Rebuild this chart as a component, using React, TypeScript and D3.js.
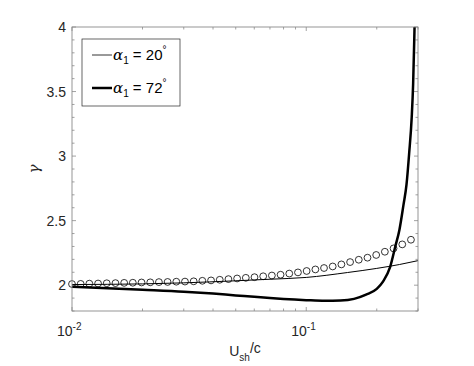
import React from 'react';
import * as d3 from 'd3';

// circles (reference points)
const circX = [0.01, 0.01089, 0.01186, 0.01292, 0.01407, 0.01533, 0.0167, 0.01818, 0.01981, 0.02158,
  0.0235, 0.02559, 0.02788, 0.03036, 0.03307, 0.03602, 0.03923, 0.04273, 0.04654, 0.05069,
  0.05521, 0.06013, 0.0655, 0.07134, 0.0777, 0.08463, 0.09218, 0.1004, 0.1094, 0.1191,
  0.1297, 0.1413, 0.1539, 0.1676, 0.1826, 0.1989, 0.2166, 0.2359, 0.257, 0.2799];
const circY = [2.009, 2.010, 2.012, 2.013, 2.015, 2.016, 2.018, 2.019, 2.021, 2.022,
  2.024, 2.025, 2.027, 2.028, 2.030, 2.034, 2.037, 2.042, 2.047, 2.052,
  2.057, 2.062, 2.069, 2.075, 2.081, 2.090, 2.099, 2.110, 2.122, 2.133,
  2.145, 2.161, 2.179, 2.197, 2.213, 2.234, 2.259, 2.285, 2.316, 2.352];

// alpha1 = 20 deg
const thinX = [0.01, 0.02, 0.03, 0.05, 0.07, 0.1, 0.15, 0.2, 0.25, 0.3];
const thinY = [2.005, 2.010, 2.018, 2.034, 2.046, 2.060, 2.098, 2.130, 2.160, 2.190];

// alpha1 = 72 deg
const thickX = [0.01, 0.015, 0.02, 0.03, 0.04, 0.05, 0.06, 0.07, 0.08, 0.1, 0.12, 0.14, 0.16, 0.18,
  0.2, 0.213, 0.228, 0.24, 0.25, 0.26, 0.268, 0.275, 0.282, 0.286, 0.29, 0.295];
const thickY = [1.988, 1.975, 1.965, 1.950, 1.935, 1.921, 1.910, 1.900, 1.893, 1.884, 1.879, 1.881, 1.894, 1.927,
  1.972, 2.03, 2.14, 2.30, 2.43, 2.62, 2.78, 3.02, 3.30, 3.56, 4.0, 4.6];

const yTicks = [2, 2.5, 3, 3.5, 4];
const xMajor = [0.01, 0.1];
const xMinor = [0.02, 0.03, 0.04, 0.05, 0.06, 0.07, 0.08, 0.09, 0.2, 0.3];

const legendLabels = ['20', '72'];

const W = 474, H = 366;
const m = { left: 72, top: 27, right: 418, bottom: 311 };
const font = 'Liberation Sans, Arial, Helvetica, sans-serif';
const axisColor = '#8a8a8a';
const textColor = '#262626';

export default function App() {
  const x = d3.scaleLog().domain([0.01, 0.3]).range([m.left, m.right]);
  const y = d3.scaleLinear().domain([1.8, 4]).range([m.bottom, m.top]);

  const line = d3.line<[number, number]>()
    .x(d => x(d[0]))
    .y(d => y(d[1]))
    .curve(d3.curveMonotoneX);

  const thin = line(thinX.map((v, i) => [v, thinY[i]]));
  const thick = line(thickX.map((v, i) => [v, thickY[i]]));

  const yMinor = d3.range(18, 41).map(v => v / 10).filter(v => !yTicks.some(t => Math.abs(t - v) < 1e-6));

  return (
    <svg width={W} height={H} style={{ position: 'absolute', left: 0, top: 0, background: '#fff' }}
      fontFamily={font}>
      <defs>
        <clipPath id="plot">
          <rect x={m.left} y={m.top} width={m.right - m.left} height={m.bottom - m.top} />
        </clipPath>
      </defs>

      {/* ticks */}
      <g stroke={axisColor} strokeWidth={0.8}>
        {yTicks.map(t => (
          <g key={'yt' + t}>
            <line x1={m.left} x2={m.left + 4} y1={y(t)} y2={y(t)} />
            <line x1={m.right} x2={m.right - 4} y1={y(t)} y2={y(t)} />
          </g>
        ))}
        {yMinor.map(t => (
          <g key={'ym' + t}>
            <line x1={m.left} x2={m.left + 2.5} y1={y(t)} y2={y(t)} />
            <line x1={m.right} x2={m.right - 2.5} y1={y(t)} y2={y(t)} />
          </g>
        ))}
        {xMajor.map(t => (
          <g key={'xt' + t}>
            <line x1={x(t)} x2={x(t)} y1={m.bottom} y2={m.bottom - 4} />
            <line x1={x(t)} x2={x(t)} y1={m.top} y2={m.top + 4} />
          </g>
        ))}
        {xMinor.map(t => (
          <g key={'xm' + t}>
            <line x1={x(t)} x2={x(t)} y1={m.bottom} y2={m.bottom - 2.5} />
            <line x1={x(t)} x2={x(t)} y1={m.top} y2={m.top + 2.5} />
          </g>
        ))}
      </g>

      {/* data */}
      <g clipPath="url(#plot)">
        <path d={thin ?? ''} fill="none" stroke="#000" strokeWidth={1} />
      </g>
      {circX.map((v, i) => (
        <circle key={i} cx={x(v)} cy={y(circY[i])} r={3.4} fill="none" stroke="#000" strokeWidth={0.8} />
      ))}
      <g clipPath="url(#plot)">
        <path d={thick ?? ''} fill="none" stroke="#000" strokeWidth={2.5} />
      </g>

      <rect x={m.left} y={m.top} width={m.right - m.left} height={m.bottom - m.top}
        fill="none" stroke={axisColor} strokeWidth={0.9} />

      {/* y tick labels */}
      <g fontSize={14} fill={textColor} textAnchor="end">
        {yTicks.map(t => (
          <text key={t} x={m.left - 6} y={y(t)} dy="0.36em">{d3.format('')(t)}</text>
        ))}
      </g>

      {/* x tick labels */}
      <g fontSize={14} fill={textColor}>
        {xMajor.map(t => (
          <text key={t} x={x(t) - 15} y={m.bottom + 25}>
            10<tspan fontSize={10} dy={-6}>{'-' + Math.round(-Math.log10(t))}</tspan>
          </text>
        ))}
      </g>

      {/* axis labels */}
      <text x={(m.left + m.right) / 2} y={356} textAnchor="middle" fontSize={14} fill={textColor}>
        U<tspan fontSize={10} dy={5}>sh</tspan><tspan dy={-8}>/c</tspan>
      </text>
      <text transform={`translate(39,${(m.top + m.bottom) / 2}) rotate(-90)`} textAnchor="middle"
        fontSize={15} fill={textColor} fontFamily="DejaVu Serif, serif" fontStyle="italic">γ</text>

      {/* legend */}
      <g>
        <rect x={82} y={39} width={98} height={67} fill="#fff" stroke={textColor} strokeWidth={0.7} />
        {legendLabels.map((lab, i) => {
          const ly = 55 + i * 33;
          return (
            <g key={lab}>
              <line x1={92} x2={112} y1={ly} y2={ly} stroke="#000" strokeWidth={i === 0 ? 0.8 : 2.5} />
              <text x={113} y={ly} dy="0.36em" fontSize={15} fill="#000">
                <tspan fontFamily="DejaVu Serif, serif" fontStyle="italic">α</tspan>
                <tspan fontSize={10} dy={4}>1</tspan>
                <tspan dy={-4}>{' = ' + lab}</tspan>
                <tspan fontSize={10} dy={-7}>°</tspan>
              </text>
            </g>
          );
        })}
      </g>
    </svg>
  );
}
